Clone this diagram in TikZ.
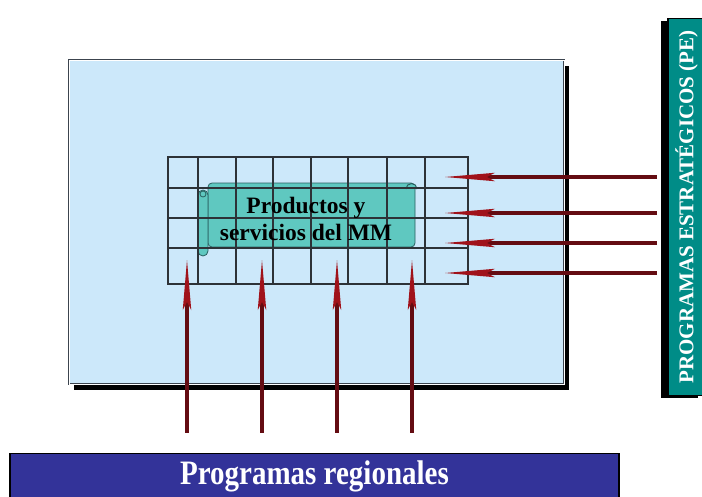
\documentclass[tikz,border=0pt]{standalone}
\usepackage{fontspec}
\setmainfont{Liberation Serif}
\usetikzlibrary{arrows.meta,positioning,shadows}

\definecolor{fondomm}{RGB}{204,232,250}
\definecolor{bordemm}{RGB}{60,68,78}
\definecolor{pergam}{RGB}{95,200,192}
\definecolor{bordeperg}{RGB}{40,95,95}
\definecolor{lineagris}{RGB}{45,50,55}
\definecolor{verdepe}{RGB}{0,140,135}
\definecolor{azulreg}{RGB}{51,51,153}
\definecolor{rojoosc}{RGB}{100,12,18}
\definecolor{rojoclaro}{RGB}{160,18,26}

\tikzset{
  marco/.style={draw=bordemm,line width=1pt,double=white,double distance=0.9pt,
    fill=fondomm,inner sep=0pt,outer sep=0pt,minimum width=495,minimum height=324,
    drop shadow={shadow xshift=5pt,shadow yshift=-6pt,fill=black,opacity=1}},
  rejilla/.style={draw=lineagris,line width=1.1pt,inner sep=0pt,outer sep=0pt,
    minimum width=300,minimum height=127},
  linea/.style={draw=lineagris,line width=1.1pt},
  pergamino/.style={fill=pergam,draw=bordeperg,line width=0.8pt},
  banda/.style={draw=black,line width=1.2pt,inner sep=0pt,outer sep=0pt,
    text=white,font=\bfseries},
  flecha/.style={draw=rojoosc,line width=3.5pt,
    -{Stealth[length=50pt,width=8.5pt,inset=8pt,line width=0pt,fill=rojoclaro]}},
}

\begin{document}
\begin{tikzpicture}[x=1pt,y=-1pt]
\useasboundingbox (0,0) rectangle (702,496);

% recuadro del MM
\node[marco] (mm) at (316.5,222) {};

% pergamino
\draw[pergamino,rounded corners=4pt] (208,183) rectangle (415,247);
\draw[pergamino,rounded corners=5pt] (198,190) rectangle (208,256);
\draw[bordeperg,line width=0.8pt] (203,194) circle (3);
\draw[bordeperg,line width=1pt,fill=pergam] (406,189) arc (180:360:5.5);

% rejilla
\node[rejilla] (grid) at (318,220.5) {};
\foreach \x in {198,236,273,311,348,387,425}
  \draw[linea] (\x,157) -- (\x,284);
\foreach \y in {188,218,248}
  \draw[linea] (168,\y) -- (468,\y);

\node[font=\fontsize{23.5}{27}\selectfont\bfseries,align=center] (prod) at (306,219)
  {Productos y\\servicios del MM};

% bandas
\node[banda,fill=azulreg,minimum width=609,minimum height=46,
  font=\fontsize{29}{33}\selectfont\bfseries] (reg) at (314.5,476.5)
  {\scalebox{1}[1.18]{Programas regionales}};
\node[banda,fill=verdepe,minimum width=37,minimum height=377,
  font=\fontsize{21}{24}\selectfont\bfseries,
  drop shadow={shadow xshift=-7pt,shadow yshift=-2pt,fill=black,opacity=1}] (pe) at (686.5,207)
  {\rotatebox{90}{PROGRAMAS ESTRATÉGICOS (PE)}};

% flechas
\foreach \x [count=\i] in {187,262,337,412} {
  \coordinate (punta\i) at (\x,260);
  \draw[flecha,shorten <=21pt] (punta\i |- reg.north) -- (punta\i);
}
\foreach \y [count=\i] in {177,213,243,273} {
  \coordinate (entra\i) at (445,\y);
  \draw[flecha,shorten <=11pt] (entra\i -| pe.west) -- (entra\i);
}
\end{tikzpicture}
\end{document}
